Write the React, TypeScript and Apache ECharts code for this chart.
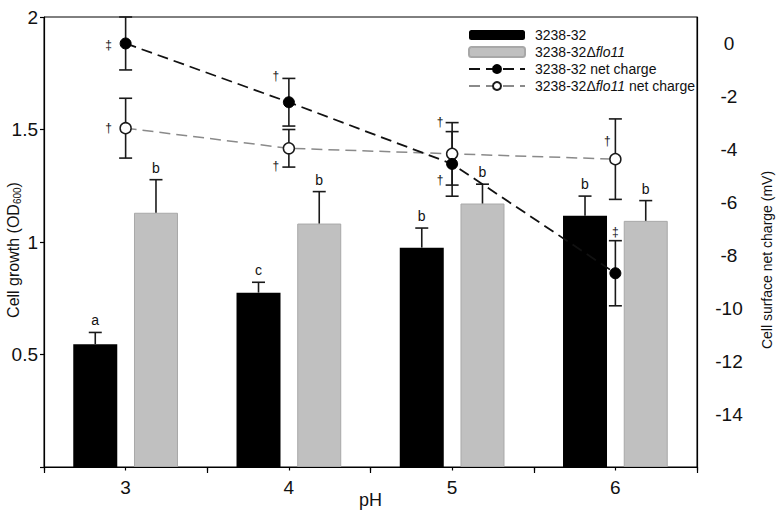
import React, { useEffect, useRef } from 'react';
import * as echarts from 'echarts';

const FONT = '"Liberation Sans", Arial, Helvetica, sans-serif';

// ---- data ----
const pHValues = [3, 4, 5, 6];

const nameWT = '3238-32';
const nameMut = '3238-32Δflo11';
const nameWTCharge = '3238-32 net charge';
const nameMutCharge = '3238-32Δflo11 net charge';

const growthWT = [0.546, 0.775, 0.975, 1.117];
const growthWTErr = [0.052, 0.046, 0.087, 0.087];
const growthWTLetters = ['a', 'c', 'b', 'b'];

const growthMut = [1.13, 1.082, 1.171, 1.094];
const growthMutErr = [0.147, 0.142, 0.086, 0.09];
const growthMutLetters = ['b', 'b', 'b', 'b'];

const chargeWT = [0.0, -2.22, -4.55, -8.68];
const chargeWTErr = [1.0, 0.9, 1.22, 1.23];
const chargeWTMarks = ['‡', '†', '†', '‡'];

const chargeMut = [-3.2, -3.96, -4.17, -4.37];
const chargeMutErr = [1.13, 0.71, 1.18, 1.52];
const chargeMutMarks = ['†', '†', '†', '†'];

const leftLabels = [0.5, 1, 1.5, 2];
const rightLabels = [0, -2, -4, -6, -8, -10, -12, -14];
const xLabels = [3, 4, 5, 6];
const xMajorTicks = [2.5, 3.5, 4.5, 5.5, 6.5];

// ---- layout helpers (not data) ----
const BAR_W = 44;
const BAR_GAP = 0.38;
const BAR_OFFSET = (BAR_W + BAR_W * BAR_GAP) / 2;
const INK = '#1a1a1a';
const TICK_FONT = 19;

// annotation placement relative to point ('pt'), upper cap ('hi') or lower cap ('lo')
const wtMarkPlace = [
  { a: 'pt', dx: -17, dy: 2 },
  { a: 'hi', dx: -13, dy: -2 },
  { a: 'lo', dx: -12, dy: -16 },
  { a: 'hi', dx: 0, dy: -9 },
];
const mutMarkPlace = [
  { a: 'pt', dx: -17, dy: 0 },
  { a: 'lo', dx: -13, dy: -1 },
  { a: 'hi', dx: -12, dy: -1 },
  { a: 'pt', dx: -8, dy: -18 },
];

function barErrorSeries(values: number[], errs: number[], letters: string[], offset: number) {
  return {
    type: 'custom',
    xAxisIndex: 0,
    yAxisIndex: 0,
    z: 3,
    silent: true,
    data: pHValues.map((x, i) => [x, values[i], errs[i]]),
    renderItem: (params: any, api: any) => {
      const x = api.value(0);
      const v = api.value(1);
      const e = api.value(2);
      const base = api.coord([x, v]);
      const top = api.coord([x, v + e]);
      const cx = base[0] + offset;
      const st = { stroke: INK, lineWidth: 1.6 };
      return {
        type: 'group',
        children: [
          { type: 'line', shape: { x1: cx, y1: base[1], x2: cx, y2: top[1] }, style: st },
          { type: 'line', shape: { x1: cx - 6.5, y1: top[1], x2: cx + 6.5, y2: top[1] }, style: st },
          {
            type: 'text',
            x: cx,
            y: top[1] - 5,
            style: {
              text: letters[params.dataIndex],
              align: 'center',
              verticalAlign: 'bottom',
              fontSize: 14,
              fontFamily: FONT,
              fill: '#111111',
            },
          },
        ],
      };
    },
  };
}

function lineErrorSeries(values: number[], errs: number[], marks: string[], place: any[]) {
  return {
    type: 'custom',
    xAxisIndex: 0,
    yAxisIndex: 1,
    z: 5,
    silent: true,
    data: pHValues.map((x, i) => [x, values[i], errs[i]]),
    renderItem: (params: any, api: any) => {
      const x = api.value(0);
      const v = api.value(1);
      const e = api.value(2);
      const p = api.coord([x, v]);
      const hi = api.coord([x, v + e]);
      const lo = api.coord([x, v - e]);
      const st = { stroke: INK, lineWidth: 1.6 };
      const pl = place[params.dataIndex];
      const anchor = pl.a === 'hi' ? hi : pl.a === 'lo' ? lo : p;
      return {
        type: 'group',
        children: [
          { type: 'line', shape: { x1: p[0], y1: hi[1], x2: p[0], y2: lo[1] }, style: st },
          { type: 'line', shape: { x1: p[0] - 6.5, y1: hi[1], x2: p[0] + 6.5, y2: hi[1] }, style: st },
          { type: 'line', shape: { x1: p[0] - 6.5, y1: lo[1], x2: p[0] + 6.5, y2: lo[1] }, style: st },
          {
            type: 'text',
            x: anchor[0] + pl.dx,
            y: anchor[1] + pl.dy,
            style: {
              text: marks[params.dataIndex],
              align: 'center',
              verticalAlign: 'middle',
              fontSize: 12,
              fontFamily: FONT,
              fill: '#111111',
            },
          },
        ],
      };
    },
  };
}

export default function App() {
  const ref = useRef<HTMLDivElement>(null);

  useEffect(() => {
    if (!ref.current) return;
    const chart = echarts.init(ref.current, null, { renderer: 'svg' });

    const option: any = {
      animation: false,
      backgroundColor: '#ffffff',
      textStyle: { fontFamily: FONT },
      grid: {
        left: 44,
        right: 87,
        top: 17,
        bottom: 50,
        containLabel: false,
        outerBoundsMode: 'none',
        show: true,
        borderColor: '#000',
        borderWidth: 1,
        backgroundColor: 'transparent',
      },
      legend: {
        orient: 'vertical',
        left: 463,
        top: 22,
        itemWidth: 56,
        itemHeight: 10,
        itemGap: 1,
        data: [nameWT, nameMut, nameWTCharge, nameMutCharge],
        formatter: (n: string) => n.replace('flo11', '{i|flo11}'),
        textStyle: {
          fontSize: 14,
          lineHeight: 16,
          fontFamily: FONT,
          color: '#111',
          padding: [0, 0, 0, 5],
          rich: { i: { fontStyle: 'italic', fontSize: 14, lineHeight: 16, fontFamily: FONT, color: '#111' } },
        },
      },
      xAxis: [
        {
          type: 'value',
          position: 'bottom',
          min: 2.5,
          max: 6.5,
          interval: 0.5,
          name: 'pH',
          nameLocation: 'middle',
          nameGap: 24,
          nameMoveOverlap: false,
          nameTextStyle: { fontSize: 18, fontFamily: FONT, color: '#111' },
          axisLine: { show: true, onZero: false, lineStyle: { color: '#000', width: 1.2 } },
          axisTick: { show: true, length: 3.5, lineStyle: { color: '#000', width: 1.2 } },
          axisLabel: {
            customValues: xLabels,
            formatter: (v: number) => String(v),
            fontSize: TICK_FONT,
            fontFamily: FONT,
            color: '#111',
            margin: 11,
          },
          splitLine: { show: false },
        },
        {
          type: 'value',
          position: 'bottom',
          min: 2.5,
          max: 6.5,
          interval: 0.5,
          axisLine: { show: false, onZero: false },
          axisTick: { show: true, customValues: xMajorTicks, length: 6, lineStyle: { color: '#000', width: 1.2 } },
          axisLabel: { show: false },
          splitLine: { show: false },
        },
      ],
      yAxis: [
        {
          type: 'value',
          position: 'left',
          min: 0,
          max: 2,
          interval: 0.5,
          name: '{t|Cell growth (OD}{s|600}{t|)}',
          nameLocation: 'middle',
          nameRotate: 90,
          nameGap: 22,
          nameMoveOverlap: false,
          nameTextStyle: {
            padding: [0, 16, 0, 0],
            rich: {
              t: { fontSize: 16, fontFamily: FONT, color: '#111', lineHeight: 18, verticalAlign: 'middle' },
              s: { fontSize: 10, fontFamily: FONT, color: '#111', lineHeight: 11, verticalAlign: 'bottom' },
            },
          },
          axisLine: { show: true, onZero: false, lineStyle: { color: '#000', width: 1.2 } },
          axisTick: { show: true, length: 4, lineStyle: { color: '#000', width: 1.2 } },
          axisLabel: {
            customValues: leftLabels,
            formatter: (v: number) => String(v),
            fontSize: TICK_FONT,
            fontFamily: FONT,
            color: '#111',
            margin: 6,
          },
          splitLine: { show: false },
        },
        {
          type: 'value',
          position: 'right',
          min: -16,
          max: 1,
          interval: 2,
          name: 'Cell surface net charge (mV)',
          nameLocation: 'middle',
          nameRotate: 90,
          nameGap: 63,
          nameMoveOverlap: false,
          nameTextStyle: { fontSize: 14, fontFamily: FONT, color: '#111', padding: [0, 36, 0, 0] },
          axisLine: { show: true, onZero: false, lineStyle: { color: '#000', width: 1.2 } },
          axisTick: { show: false },
          axisLabel: {
            customValues: rightLabels,
            formatter: (v: number) => String(v),
            fontSize: TICK_FONT,
            fontFamily: FONT,
            color: '#111',
            align: 'center',
            margin: 32,
          },
          splitLine: { show: false },
        },
      ],
      series: [
        {
          type: 'bar',
          name: nameWT,
          xAxisIndex: 0,
          yAxisIndex: 0,
          data: pHValues.map((x, i) => [x, growthWT[i]]),
          barWidth: BAR_W,
          barGap: `${BAR_GAP * 100}%`,
          itemStyle: { color: '#000000' },
          z: 2,
        },
        {
          type: 'bar',
          name: nameMut,
          xAxisIndex: 0,
          yAxisIndex: 0,
          data: pHValues.map((x, i) => [x, growthMut[i]]),
          barWidth: BAR_W,
          barGap: `${BAR_GAP * 100}%`,
          itemStyle: { color: '#c0c0c0', borderColor: '#a8a8a8', borderWidth: 1 },
          z: 2,
        },
        barErrorSeries(growthWT, growthWTErr, growthWTLetters, -BAR_OFFSET),
        barErrorSeries(growthMut, growthMutErr, growthMutLetters, BAR_OFFSET),
        lineErrorSeries(chargeMut, chargeMutErr, chargeMutMarks, mutMarkPlace),
        lineErrorSeries(chargeWT, chargeWTErr, chargeWTMarks, wtMarkPlace),
        {
          type: 'line',
          name: nameMutCharge,
          xAxisIndex: 0,
          yAxisIndex: 1,
          data: pHValues.map((x, i) => [x, chargeMut[i]]),
          symbol: 'circle',
          symbolSize: 11,
          showAllSymbol: true,
          lineStyle: { color: '#8a8a8a', width: 1.5, type: [11, 6] },
          itemStyle: { color: '#ffffff', borderColor: INK, borderWidth: 1.5 },
          z: 6,
        },
        {
          type: 'line',
          name: nameWTCharge,
          xAxisIndex: 0,
          yAxisIndex: 1,
          data: pHValues.map((x, i) => [x, chargeWT[i]]),
          symbol: 'circle',
          symbolSize: 11,
          showAllSymbol: true,
          lineStyle: { color: '#111111', width: 1.8, type: [11, 6] },
          itemStyle: { color: '#000000', borderColor: '#000000', borderWidth: 1 },
          z: 7,
        },
      ],
    };

    chart.setOption(option);
    return () => chart.dispose();
  }, []);

  return (
    <div
      ref={ref}
      style={{ position: 'fixed', left: 0, top: 0, width: 784, height: 517, background: '#fff' }}
    />
  );
}
